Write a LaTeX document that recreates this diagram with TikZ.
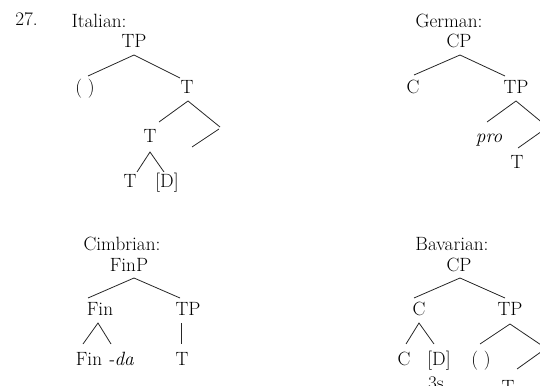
\documentclass[tikz,border=0pt]{standalone}
\begin{document}
\begin{tikzpicture}[x=1pt,y=-1pt,
  lab/.style={anchor=base,inner sep=0pt,font=\fontsize{19.2}{23}\selectfont},
  br/.style={line width=0.8pt,black!85}]
\useasboundingbox (0,0) rectangle (540,385);
\clip (0,0) rectangle (540,385);
% ---------- Italian ----------
\node[lab] (num) at (26.5,26) {27.};
\node[lab] (it) at (99,28) {Italian:};
\node[lab] (itTP) at (134,48) {TP};
\node[lab] (itE) at (85,94) {( )};
\node[lab] (itT1) at (187,94) {T};
\node[lab] (itT2) at (150,142) {T};
\node[lab] (itT3) at (130,187) {T};
\node[lab] (itD) at (167,187) {[D]};
\coordinate (itA) at (134,55);
\coordinate (itL) at (88,76);
\coordinate (itR) at (180,78);
\coordinate (itB) at (188,101);
\coordinate (itBL) at (159,122);
\coordinate (itBR) at (220,127);
\coordinate (itX) at (219,129);
\coordinate (itXL) at (192,147);
\coordinate (itC) at (150,152);
\coordinate (itCL) at (137,172);
\coordinate (itCR) at (164,172);
\draw[br] (itL) -- (itA) -- (itR);
\draw[br] (itBL) -- (itB) -- (itBR);
\draw[br] (itX) -- (itXL);
\draw[br] (itCL) -- (itC) -- (itCR);
% ---------- German ----------
\node[lab] (ge) at (449,28) {German:};
\node[lab] (geCP) at (459,48) {CP};
\node[lab] (geC) at (413,94) {C};
\node[lab] (geTP) at (516,94) {TP};
\node[lab] (gePro) at (489,142) {\itshape pro};
\node[lab] (geT) at (517,168) {T};
\coordinate (geA) at (460,55);
\coordinate (geL) at (414,75);
\coordinate (geR) at (505,76);
\coordinate (geB) at (516,101);
\coordinate (geBL) at (487,122);
\coordinate (geBR) at (550,129);
\coordinate (geX) at (552,124);
\coordinate (geXL) at (518,148);
\draw[br] (geL) -- (geA) -- (geR);
\draw[br] (geBL) -- (geB) -- (geBR);
\draw[br] (geX) -- (geXL);
% ---------- Cimbrian ----------
\node[lab] (ci) at (122,250) {Cimbrian:};
\node[lab] (ciFP) at (129,271) {FinP};
\node[lab] (ciF) at (100,315) {Fin};
\node[lab] (ciTP) at (188,315) {TP};
\node[lab] (ciFd) at (105,365) {Fin \textit{-da}};
\node[lab] (ciT) at (182,365) {T};
\coordinate (ciA) at (134,278);
\coordinate (ciL) at (88,298);
\coordinate (ciR) at (180,298);
\coordinate (ciB) at (98,323);
\coordinate (ciBL) at (83,344);
\coordinate (ciBR) at (111,344);
\coordinate (ciV1) at (181,323);
\coordinate (ciV2) at (181,344);
\draw[br] (ciL) -- (ciA) -- (ciR);
\draw[br] (ciBL) -- (ciB) -- (ciBR);
\draw[br] (ciV1) -- (ciV2);
% ---------- Bavarian ----------
\node[lab] (ba) at (452,250) {Bavarian:};
\node[lab] (baCP) at (459,271) {CP};
\node[lab] (baC) at (419,315) {C};
\node[lab] (baTP) at (510,315) {TP};
\node[lab] (baC2) at (404,365) {C};
\node[lab] (baD) at (439,365) {[D]};
\node[lab] (baE) at (481,365) {( )};
\node[lab] (ba3s) at (436,389) {3s};
\node[lab] (baT) at (508,393) {T};
\coordinate (baA) at (460,278);
\coordinate (baL) at (414,298);
\coordinate (baR) at (505,298);
\coordinate (baB) at (419,323);
\coordinate (baBL) at (406,344);
\coordinate (baBR) at (434,344);
\coordinate (baG) at (510,324);
\coordinate (baGL) at (480,344);
\coordinate (baGR) at (550,351);
\coordinate (baX) at (552,344);
\coordinate (baXL) at (517,369);
\draw[br] (baL) -- (baA) -- (baR);
\draw[br] (baBL) -- (baB) -- (baBR);
\draw[br] (baGL) -- (baG) -- (baGR);
\draw[br] (baX) -- (baXL);
\end{tikzpicture}
\end{document}
